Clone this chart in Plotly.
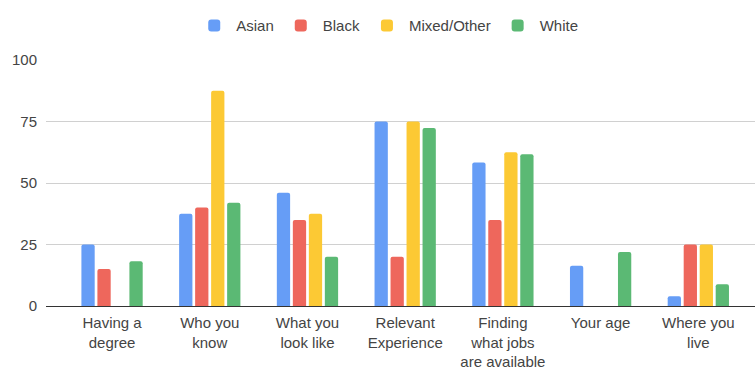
import plotly.graph_objects as go

categories = ["Having a<br>degree", "Who you<br>know", "What you<br>look like",
              "Relevant<br>Experience", "Finding<br>what jobs<br>are available",
              "Your age", "Where you<br>live"]
asian = [25, 37.5, 46, 75, 58.3, 16.4, 4]
black = [15, 40, 35, 20, 35, 0, 25]
mixed = [0, 87.5, 37.5, 75, 62.5, 0, 25]
white = [18.2, 42, 20, 72.4, 61.7, 22, 8.8]

series = [("Asian", asian, "#669df6"), ("Black", black, "#ee675c"),
          ("Mixed/Other", mixed, "#fcc934"), ("White", white, "#5bb974")]

fig = go.Figure()
xs = list(range(len(categories)))
for name, vals, col in series:
    fig.add_trace(go.Bar(name=name, x=xs, y=vals, marker=dict(color=col, line=dict(width=0))))

font = "Arial, Liberation Sans, sans-serif"
fig.update_layout(
    width=755, height=369,
    margin=dict(l=46, r=0, t=60, b=63),
    plot_bgcolor="white", paper_bgcolor="white",
    barmode="group", bargap=0.345, bargroupgap=0.17, barcornerradius=2,
    font=dict(family=font, size=15, color="#444"),
    legend=dict(orientation="h", x=0.482, xanchor="center", y=0.975, yanchor="top",
                yref="container", itemwidth=34, font=dict(size=15, color="#444"),
                itemclick=False),
    showlegend=True,
)
fig.update_xaxes(range=[-0.676, 6.58], tickmode="array", tickvals=xs, ticktext=categories,
                 showgrid=False, ticks="", tickfont=dict(size=15, color="#444"),
                 ticklabelstandoff=6, showline=False, zeroline=False)
fig.update_yaxes(range=[0, 100], tickvals=[0, 25, 50, 75, 100], showgrid=True,
                 gridcolor="#d0d0d0", gridwidth=1, zeroline=True, zerolinecolor="#333",
                 zerolinewidth=1.3, ticks="", ticklabelstandoff=8,
                 tickfont=dict(size=15, color="#444"))
fig.write_html("out.html")
